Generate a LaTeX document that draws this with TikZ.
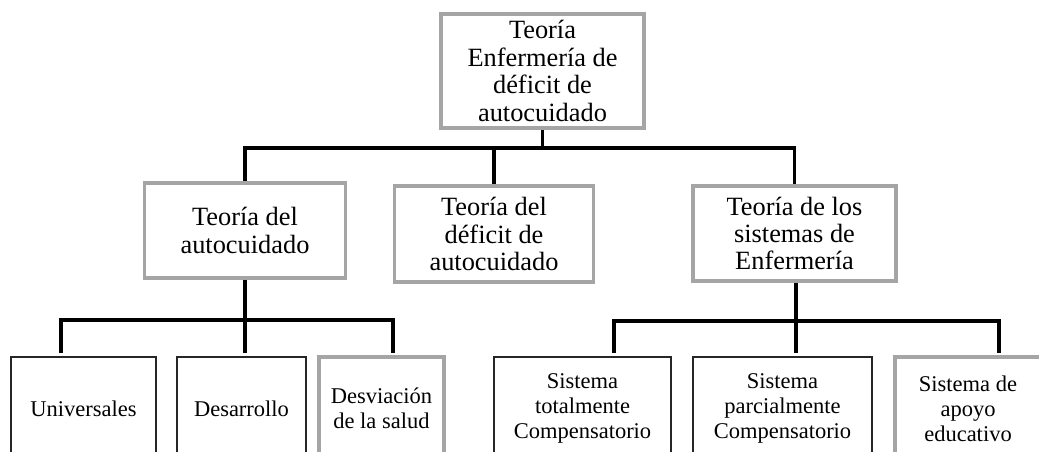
\documentclass[tikz,border=0pt]{standalone}
\usepackage{fontspec}
\setmainfont{Liberation Serif}
\usetikzlibrary{positioning}
\definecolor{boxgray}{RGB}{165,165,165}

\begin{document}
\begin{tikzpicture}[
    teoria/.style={draw=boxgray,line width=2.2pt,align=center,inner sep=0pt,font=\fontsize{15}{15.6}\selectfont},
    tipo/.style={draw=black!85,line width=1pt,align=center,inner sep=0pt,font=\fontsize{12.8}{14.2}\selectfont},
    tipogris/.style={tipo,draw=boxgray,line width=2.2pt},
    line/.style={line width=1.9pt}
]
\useasboundingbox (0,0) rectangle (20.78,-9.04);
\clip (0,0) rectangle (20.78,-9.04);

% teoria general
\node[teoria,minimum width=4.05cm,minimum height=2.28cm] (t0) at (10.85,-1.42)
    {Teoría\\Enfermería de\\déficit de\\autocuidado};

% las tres teorias
\node[teoria,minimum width=4.02cm,minimum height=1.9cm] (t1) at (4.9,-4.61) {Teoría del\\autocuidado};
\node[teoria,minimum width=3.98cm,minimum height=1.92cm] (t2) at (9.88,-4.68) {Teoría del\\déficit de\\autocuidado};
\node[teoria,minimum width=4.05cm,minimum height=1.9cm] (t3) at (15.89,-4.67) {Teoría de los\\sistemas de\\Enfermería};

% requisitos (rama izquierda)
\node[tipo,minimum width=2.9cm,minimum height=2.06cm] (r1) at (1.67,-8.17) {Universales};
\node[tipo,minimum width=2.58cm,minimum height=2.06cm] (r2) at (4.83,-8.17) {Desarrollo};
\node[tipogris,minimum width=2.5cm,minimum height=2.06cm] (r3) at (7.63,-8.17) {Desviación\\de la salud};

% sistemas (rama derecha)
\node[tipo,minimum width=3.54cm,minimum height=2.06cm] (s1) at (11.65,-8.17) {Sistema\\totalmente\\Compensatorio};
\node[tipo,minimum width=3.58cm,minimum height=2.06cm] (s2) at (15.65,-8.17) {Sistema\\parcialmente\\Compensatorio};
\node[tipogris,minimum width=2.92cm,minimum height=2.06cm] (s3) at (19.36,-8.17) {Sistema de\\apoyo\\educativo};

% puntos de las barras
\coordinate (b0) at (10.85,-2.96);
\coordinate (b1) at (4.9,-6.4);
\coordinate (b2) at (15.92,-6.42);
\coordinate (u1) at (1.22,-7.06);
\coordinate (u2) at (4.9,-7.06);
\coordinate (u3) at (7.86,-7.06);
\coordinate (v1) at (12.28,-7.06);
\coordinate (v2) at (15.92,-7.06);
\coordinate (v3) at (19.98,-7.06);

% conexiones
\draw[line] (t0) -- (b0);
\draw[line] (b0) -| (t1);
\draw[line] (b0) -| (t2);
\draw[line] (b0) -| (t3);

\draw[line] (t1) -- (b1);
\draw[line] (u1) |- (b1) -| (u3);
\draw[line] (b1) -- (u2);

\draw[line] (t3.south -| b2) -- (b2);
\draw[line] (v1) |- (b2) -| (v3);
\draw[line] (b2) -- (v2);

\end{tikzpicture}
\end{document}
